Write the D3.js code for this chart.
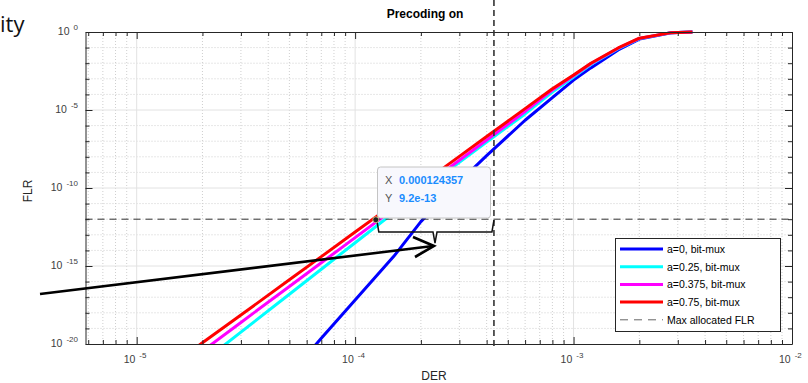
<!DOCTYPE html>
<html>
<head>
<meta charset="utf-8">
<script src="https://cdn.jsdelivr.net/npm/d3@7"></script>
<style>
  body { margin: 0; background: #fff; }
  svg { display: block; font-family: "Liberation Sans", Arial, sans-serif; }
</style>
</head>
<body>
<div id="chart"></div>
<script>
// DER values shared by every curve
var der = [1.5e-5, 2e-5, 3e-5, 5e-5, 7e-5, 1e-4, 1.5e-4, 2e-4, 3e-4, 4e-4, 6e-4, 8e-4,
           1e-3, 1.2e-3, 1.6e-3, 2e-3, 2.8e-3, 3.5e-3];

// FLR per series (values below 1e-20 fall outside the axes)
var flrA0 = [1e-26, 1e-24, 1e-23, 1.1e-22, 2.3e-20, 6.5e-18, 4e-15, 7e-13, 2.5e-10, 1.2e-8,
             2.2e-6, 6.3e-5, 8.3e-4, 5e-3, 7.1e-2, 0.35, 0.89, 1];
var flrA025 = [3.2e-23, 6.8e-22, 5.8e-20, 1.55e-17, 6.2e-16, 3.1e-14, 2.6e-12, 6.2e-11,
               4.5e-9, 8.9e-8, 5.6e-6, 1.41e-4, 1.32e-3, 8.3e-3, 8.5e-2, 0.38, 0.91, 1];
var flrA0375 = [1.8e-22, 3.5e-21, 2.4e-19, 4.9e-17, 1.6e-15, 6.6e-14, 4.5e-12, 8.9e-11,
                6e-9, 1.2e-7, 8.1e-6, 1.9e-4, 1.58e-3, 9.3e-3, 9.1e-2, 0.39, 0.91, 1];
var flrA075 = [6.3e-22, 1.2e-20, 7.2e-19, 1.3e-16, 4e-15, 1.5e-13, 9.3e-12, 1.7e-10,
               1.07e-8, 2e-7, 1.23e-5, 2.3e-4, 1.74e-3, 1e-2, 9.5e-2, 0.4, 0.91, 1];

var seriesNames = ["a=0, bit-mux", "a=0.25, bit-mux", "a=0.375, bit-mux", "a=0.75, bit-mux"];
var seriesColors = ["#0000ff", "#00ffff", "#ff00ff", "#ff0000"];
var seriesFlr = [flrA0, flrA025, flrA0375, flrA075];

var maxFlr = 1e-12;          // max allocated FLR
var derLimit = 4.32e-4;      // vertical marker
var cursorX = 0.000124357, cursorY = 9.2e-13;

var xTicks = [1e-5, 1e-4, 1e-3, 1e-2];
var yTicks = [1e0, 1e-5, 1e-10, 1e-15, 1e-20];

var width = 808, height = 383;
var pLeft = 85.5, pRight = 792, pTop = 32, pBottom = 344;

var svg = d3.select("#chart").append("svg")
    .attr("width", width)
    .attr("height", height);

var x = d3.scaleLog().domain([5.83e-6, 1e-2]).range([pLeft, pRight]);
var y = d3.scaleLog().domain([1e-20, 1]).range([pBottom, pTop]);

// minor tick values
var xMinor = [];
[-6, -5, -4, -3].forEach(function(e) {
  for (var m = 2; m <= 9; m++) {
    var v = m * Math.pow(10, e);
    if (v > 5.83e-6 && v < 1e-2) xMinor.push(v);
  }
});
var yMinor = d3.range(1, 20).filter(function(e) { return e % 5 != 0; })
    .map(function(e) { return Math.pow(10, -e); });

// grid
var grid = svg.append("g");
grid.selectAll(".xmg").data(xMinor).enter().append("line")
    .attr("x1", d => x(d)).attr("x2", d => x(d))
    .attr("y1", pTop).attr("y2", pBottom)
    .attr("stroke", "#cfcfcf").attr("stroke-dasharray", "1,2");
grid.selectAll(".ymg").data(yMinor).enter().append("line")
    .attr("x1", pLeft).attr("x2", pRight)
    .attr("y1", d => y(d)).attr("y2", d => y(d))
    .attr("stroke", "#cfcfcf").attr("stroke-dasharray", "1,2");
grid.selectAll(".xMg").data(xTicks.slice(0, 3)).enter().append("line")
    .attr("x1", d => x(d)).attr("x2", d => x(d))
    .attr("y1", pTop).attr("y2", pBottom)
    .attr("stroke", "#e2e2e2");
grid.selectAll(".yMg").data(yTicks.slice(1, 4)).enter().append("line")
    .attr("x1", pLeft).attr("x2", pRight)
    .attr("y1", d => y(d)).attr("y2", d => y(d))
    .attr("stroke", "#e2e2e2");

// clip for curves
svg.append("clipPath").attr("id", "clip").append("rect")
    .attr("x", pLeft).attr("y", pTop - 2)
    .attr("width", pRight - pLeft).attr("height", pBottom - pTop + 2);

var line = d3.line()
    .x((d, i) => x(der[i]))
    .y(d => y(d));

svg.append("g").attr("clip-path", "url(#clip)")
  .selectAll("path").data(seriesFlr).enter().append("path")
    .attr("d", line)
    .attr("fill", "none")
    .attr("stroke", (d, i) => seriesColors[i])
    .attr("stroke-width", 3)
    .attr("stroke-linejoin", "round");

// max allocated FLR
svg.append("line")
    .attr("x1", pLeft).attr("x2", pRight)
    .attr("y1", y(maxFlr)).attr("y2", y(maxFlr))
    .attr("stroke", "#333").attr("stroke-width", 1)
    .attr("stroke-dasharray", "7,5");

// axes with ticks on all four sides
var xb = d3.axisBottom(x), xt = d3.axisTop(x), yl = d3.axisLeft(y), yr = d3.axisRight(y);
var allX = xTicks.concat(xMinor), allY = yTicks.concat(yMinor);
var xTickSize = d => xTicks.indexOf(d) >= 0 ? 7 : 4;
var yTickSize = d => yTicks.indexOf(d) >= 0 ? 7 : 4;

function tickAxis(gen, vals, sizeFn, tr) {
  var g = svg.append("g").attr("transform", tr)
    .call(gen.tickValues(vals).tickSizeOuter(0).tickSizeInner(0));
  g.select(".domain").attr("stroke", "#262626");
  g.selectAll("text").remove();
  g.selectAll(".tick line").attr("stroke", "#262626").each(function(d) {
    var s = sizeFn(d);
    var el = d3.select(this);
    if (gen === xb) el.attr("y2", -s);
    if (gen === xt) el.attr("y2", s);
    if (gen === yl) el.attr("x2", s);
    if (gen === yr) el.attr("x2", -s);
  });
}
tickAxis(xb, allX, xTickSize, "translate(0," + pBottom + ")");
tickAxis(xt, allX, xTickSize, "translate(0," + pTop + ")");
tickAxis(yl, allY, yTickSize, "translate(" + pLeft + ",0)");
tickAxis(yr, allY, yTickSize, "translate(" + pRight + ",0)");

// tick labels 10^n
function expLabel(sel, v) {
  var e = Math.round(Math.log10(v));
  sel.append("tspan").text("10");
  sel.append("tspan").attr("dx", 4).attr("dy", -5)
    .style("font-size", "8px").text(e);
}
xTicks.forEach(function(v) {
  var t = svg.append("text")
    .attr("x", x(v) - 13).attr("y", pBottom + 19)
    .attr("fill", "#404040").style("font-size", "10.5px");
  expLabel(t, v);
});
yTicks.forEach(function(v) {
  var t = svg.append("text")
    .attr("x", 78).attr("y", y(v) + 3)
    .attr("text-anchor", "end")
    .attr("fill", "#404040").style("font-size", "10.5px");
  expLabel(t, v);
});

// axis labels and title
svg.append("text").attr("x", 434).attr("y", 380)
    .attr("text-anchor", "middle").attr("fill", "#262626")
    .style("font-size", "12px").text("DER");
svg.append("text").attr("transform", "translate(32,191) rotate(-90)")
    .attr("text-anchor", "middle").attr("fill", "#262626")
    .style("font-size", "12px").text("FLR");
svg.append("text").attr("x", 425).attr("y", 18)
    .attr("text-anchor", "middle").attr("fill", "#000")
    .style("font-size", "12px").style("font-weight", "bold").text("Precoding on");

// vertical DER marker
svg.append("line")
    .attr("x1", x(derLimit)).attr("x2", x(derLimit))
    .attr("y1", 0).attr("y2", pBottom + 3)
    .attr("stroke", "#333").attr("stroke-width", 1.6)
    .attr("stroke-dasharray", "6,4");

// legend
var lg = svg.append("g");
lg.append("rect").attr("x", 615.5).attr("y", 238.5)
    .attr("width", 165).attr("height", 93)
    .attr("fill", "#fff").attr("stroke", "#262626");
var legendNames = seriesNames.concat(["Max allocated FLR"]);
legendNames.forEach(function(n, i) {
  var yy = 249 + i * 17.7;
  lg.append("line").attr("x1", 620).attr("x2", 663)
    .attr("y1", yy).attr("y2", yy)
    .attr("stroke", i < 4 ? seriesColors[i] : "#666")
    .attr("stroke-width", i < 4 ? 3 : 1)
    .attr("stroke-dasharray", i < 4 ? null : "8,6");
  lg.append("text").attr("x", 667).attr("y", yy + 4)
    .attr("fill", "#000").style("font-size", "10.5px").text(n);
});

// brace between cursor and marker
var bx0 = x(cursorX) + 1, bx1 = x(derLimit), bMid = 435, by0 = y(maxFlr) + 1, by1 = 232;
svg.append("path")
    .attr("d", "M" + bx0 + "," + by0 + " L" + (bx0 + 2) + "," + by1 +
               " L" + (bMid - 2) + "," + by1 + " L" + bMid + "," + 243 +
               " L" + (bMid + 2) + "," + by1 + " L" + (bx1 - 2) + "," + by1 +
               " L" + bx1 + "," + by0)
    .attr("fill", "none").attr("stroke", "#111").attr("stroke-width", 1.5);

// arrow
svg.append("line").attr("x1", 40).attr("y1", 294).attr("x2", 433).attr("y2", 246)
    .attr("stroke", "#000").attr("stroke-width", 2.6);
svg.append("path").attr("d", "M413,237 L434,246 L415,257")
    .attr("fill", "none").attr("stroke", "#000").attr("stroke-width", 2.6);

// data tip
svg.append("rect").attr("x", 377.5).attr("y", 167)
    .attr("width", 113).attr("height", 51).attr("rx", 3)
    .attr("fill", "#f8f8fd").attr("stroke", "#c4c4c4");
svg.append("text").attr("x", 385).attr("y", 184).attr("fill", "#555")
    .style("font-size", "11px").text("X");
svg.append("text").attr("x", 399).attr("y", 184).attr("fill", "#1a8cff")
    .style("font-size", "11px").style("font-weight", "bold").text("0.000124357");
svg.append("text").attr("x", 385).attr("y", 202).attr("fill", "#555")
    .style("font-size", "11px").text("Y");
svg.append("text").attr("x", 399).attr("y", 202).attr("fill", "#1a8cff")
    .style("font-size", "11px").style("font-weight", "bold").text("9.2e-13");
svg.append("circle").attr("cx", x(cursorX)).attr("cy", y(cursorY))
    .attr("r", 3).attr("fill", "#222").attr("stroke", "#e8d890").attr("stroke-width", 0.8);

// cropped slide text
svg.append("text").attr("x", 0).attr("y", 32)
    .style("font-family", "'Open Sans', sans-serif").style("font-size", "22px")
    .attr("fill", "#111").text("ity");
</script>
</body>
</html>
